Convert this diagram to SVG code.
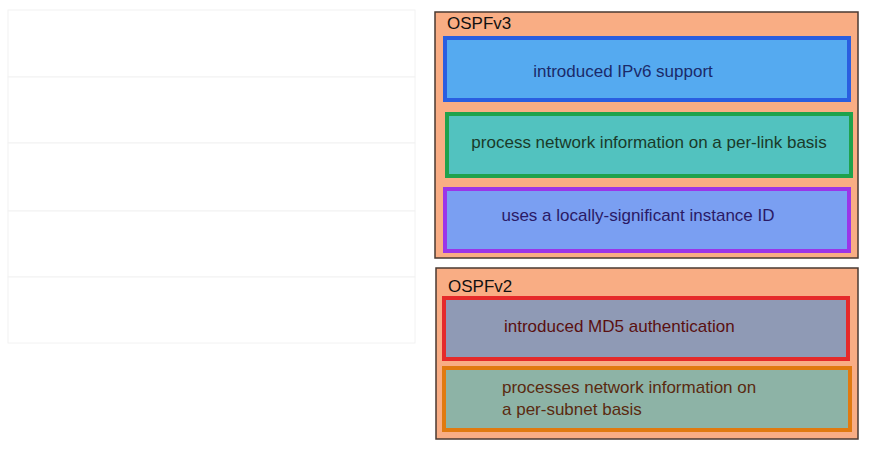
<svg xmlns="http://www.w3.org/2000/svg" width="873" height="456" viewBox="0 0 873 456">
<style>
.slot{fill:#fff;stroke:#f2f2f2;stroke-width:1}
.grp{fill:#f9ad84;stroke:#4a3a32;stroke-width:1.5}
.item{stroke-width:4}
text{font-family:"Liberation Sans",Arial,sans-serif;font-size:17px}
</style>
<rect width="873" height="456" fill="#fff"/>
<g id="slots">
<rect class="slot" x="8" y="10" width="407" height="67"/>
<rect class="slot" x="8" y="77" width="407" height="66"/>
<rect class="slot" x="8" y="143" width="407" height="68"/>
<rect class="slot" x="8" y="211" width="407" height="66"/>
<rect class="slot" x="8" y="277" width="407" height="66"/>
</g>
<g id="ospfv3">
<rect class="grp" x="435" y="12" width="423" height="246"/>
<text x="447" y="29" fill="#111">OSPFv3</text>
</g>
<g id="ipv6">
<rect class="item" x="445" y="38" width="404" height="62" fill="#55aaf0" stroke="#2a5ee0"/>
<text x="623" y="77" text-anchor="middle" fill="#1b2a6a">introduced IPv6 support</text>
</g>
<g id="perlink">
<rect class="item" x="447" y="114" width="404" height="62" fill="#52c2bf" stroke="#1ea24c"/>
<text x="649" y="148" text-anchor="middle" fill="#1a3a2a">process network information on a per-link basis</text>
</g>
<g id="instance">
<rect class="item" x="445" y="189" width="404" height="62" fill="#7a9ff2" stroke="#9b35e8"/>
<text x="638" y="221" text-anchor="middle" fill="#2a1a66">uses a locally-significant instance ID</text>
</g>
<g id="ospfv2">
<rect class="grp" x="436" y="268" width="422" height="171"/>
<text x="448" y="292" fill="#111">OSPFv2</text>
</g>
<g id="md5">
<rect class="item" x="444" y="298" width="404" height="61" fill="#8f9ab5" stroke="#e52a2a"/>
<text x="504" y="332" fill="#5a1010">introduced MD5 authentication</text>
</g>
<g id="persubnet">
<rect class="item" x="444" y="368" width="406" height="62" fill="#8db3a6" stroke="#e07a10"/>
<text x="502" y="393" fill="#5a2a10">processes network information on</text>
<text x="502" y="415" fill="#5a2a10">a per-subnet basis</text>
</g>
<g id="connectors"></g>
</svg>
